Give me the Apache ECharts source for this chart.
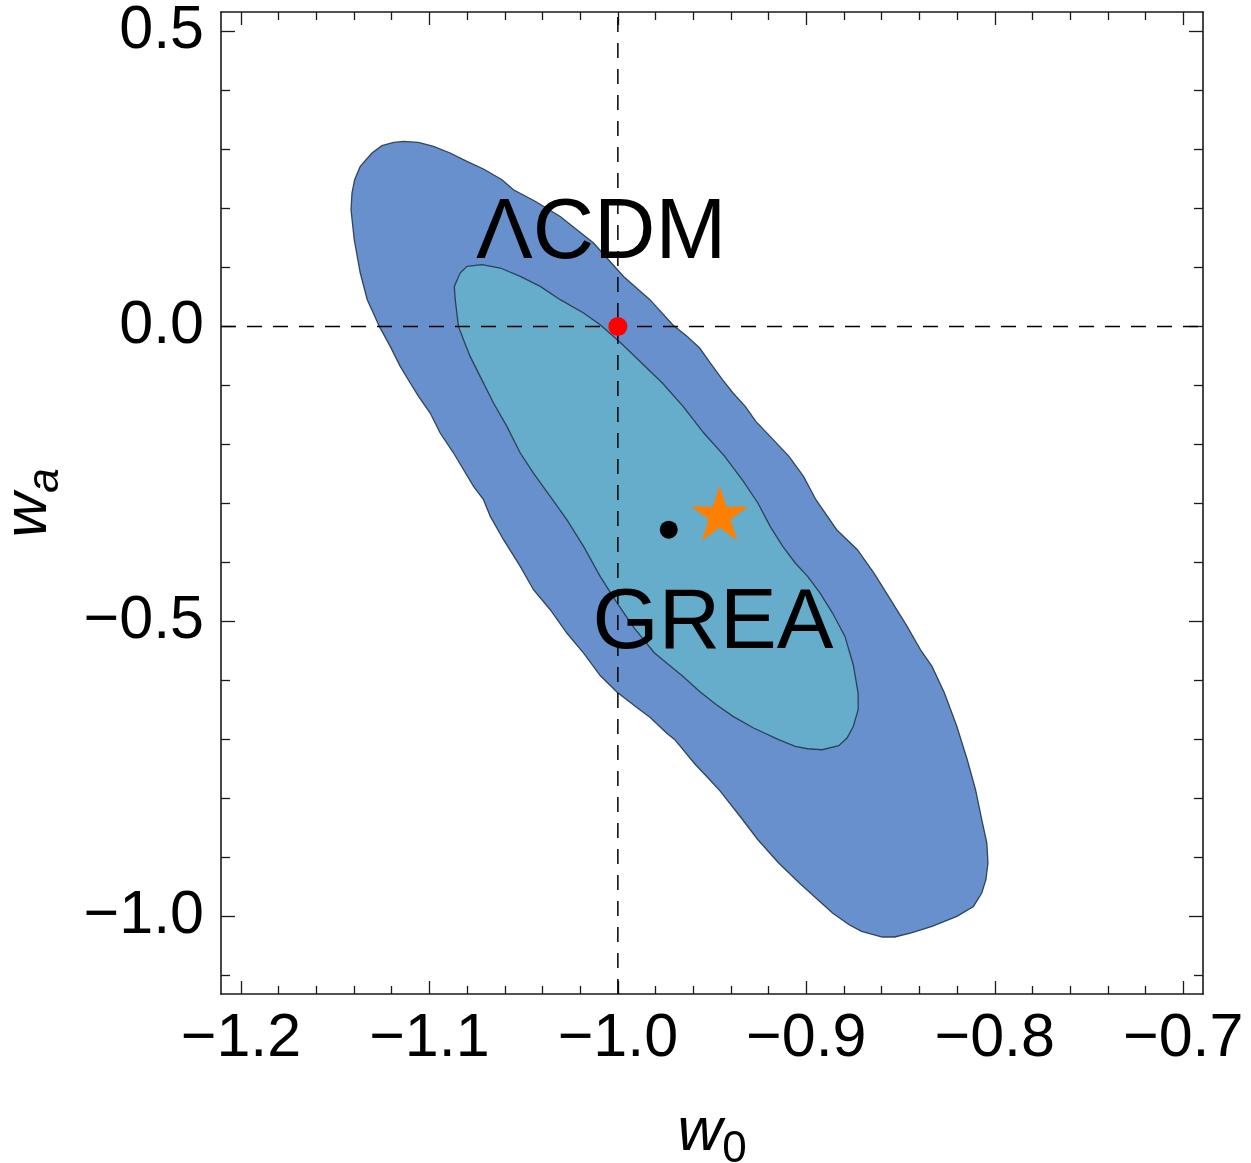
<!DOCTYPE html>
<html><head><meta charset="utf-8">
<script src="https://cdn.jsdelivr.net/npm/echarts@6/dist/echarts.min.js"></script>
<style>html,body{margin:0;padding:0;background:#fff}#c{width:1251px;height:1163px}</style>
</head><body><div id="c"></div>
<script>
// ---- data ----
const outerW0 = [-1.1190,-1.1137,-1.1058,-1.0978,-1.0890,-1.0801,-1.0713,-1.0615,-1.0554,-1.0439,-1.0306,-1.0129,-0.9970,-0.9830,-0.9709,-0.9632,-0.9566,-0.9510,-0.9445,-0.9389,-0.9324,-0.9268,-0.9192,-0.9092,-0.9015,-0.8949,-0.8839,-0.8729,-0.8641,-0.8553,-0.8465,-0.8391,-0.8333,-0.8267,-0.8201,-0.8146,-0.8102,-0.8069,-0.8042,-0.8036,-0.8047,-0.8069,-0.8113,-0.8201,-0.8333,-0.8443,-0.8531,-0.8597,-0.8707,-0.8773,-0.8861,-0.8949,-0.9037,-0.9147,-0.9257,-0.9345,-0.9456,-0.9521,-0.9588,-0.9698,-0.9742,-0.9830,-0.9896,-1.0004,-1.0094,-1.0182,-1.0271,-1.0359,-1.0448,-1.0518,-1.0607,-1.0677,-1.0713,-1.0766,-1.0819,-1.0872,-1.0943,-1.0996,-1.1058,-1.1102,-1.1155,-1.1208,-1.1266,-1.1298,-1.1330,-1.1367,-1.1399,-1.1416,-1.1411,-1.1397,-1.1367,-1.1305,-1.1252];
const outerWa = [0.3119,0.3136,0.3119,0.3051,0.2939,0.2797,0.2668,0.2486,0.2317,0.2122,0.1864,0.1414,0.0847,0.0453,0.0029,-0.0169,-0.0366,-0.0620,-0.0903,-0.1129,-0.1356,-0.1610,-0.1864,-0.2203,-0.2542,-0.2937,-0.3446,-0.3785,-0.4180,-0.4632,-0.5085,-0.5497,-0.5763,-0.6214,-0.6780,-0.7344,-0.7853,-0.8361,-0.8756,-0.9095,-0.9378,-0.9603,-0.9831,-1.0000,-1.0169,-1.0281,-1.0349,-1.0349,-1.0254,-1.0141,-0.9942,-0.9688,-0.9434,-0.9095,-0.8700,-0.8332,-0.7881,-0.7654,-0.7429,-0.7005,-0.6892,-0.6624,-0.6468,-0.6200,-0.5917,-0.5536,-0.5197,-0.4802,-0.4463,-0.4068,-0.3615,-0.3220,-0.2937,-0.2712,-0.2429,-0.2146,-0.1807,-0.1468,-0.1186,-0.0959,-0.0678,-0.0339,0.0000,0.0227,0.0453,0.0905,0.1469,0.1978,0.2261,0.2486,0.2712,0.2939,0.3063];
const innerW0 = [-1.0801,-1.0721,-1.0624,-1.0518,-1.0412,-1.0306,-1.0182,-1.0094,-0.9984,-0.9874,-0.9764,-0.9654,-0.9544,-0.9433,-0.9334,-0.9257,-0.9192,-0.9125,-0.9059,-0.8993,-0.8927,-0.8861,-0.8795,-0.8751,-0.8725,-0.8725,-0.8751,-0.8784,-0.8828,-0.8916,-0.8993,-0.9059,-0.9147,-0.9280,-0.9389,-0.9477,-0.9566,-0.9654,-0.9807,-0.9919,-1.0009,-1.0094,-1.0182,-1.0271,-1.0359,-1.0448,-1.0518,-1.0589,-1.0660,-1.0731,-1.0784,-1.0819,-1.0846,-1.0863,-1.0868,-1.0837];
const innerWa = [0.1017,0.1046,0.0990,0.0847,0.0678,0.0453,0.0227,0.0029,-0.0281,-0.0620,-0.0959,-0.1356,-0.1807,-0.2203,-0.2627,-0.2993,-0.3390,-0.3729,-0.4010,-0.4237,-0.4519,-0.4858,-0.5254,-0.5734,-0.6214,-0.6497,-0.6780,-0.6976,-0.7107,-0.7175,-0.7158,-0.7119,-0.7005,-0.6807,-0.6610,-0.6412,-0.6186,-0.5932,-0.5531,-0.5090,-0.4666,-0.4237,-0.3729,-0.3276,-0.2881,-0.2485,-0.2146,-0.1695,-0.1298,-0.0847,-0.0508,-0.0225,0.0000,0.0453,0.0678,0.0905];

const lcdmPoint = [-1.0, 0.0];
const greaPoint = [-0.973, -0.3446];
const starPoint = [-0.946, -0.321];

const labelNames = ['ΛCDM', 'GREA'];
const labelW0 = [-1.0089, -0.9495];
const labelWa = [0.1560, -0.5055];

const refW0 = -1.0;
const refWa = 0.0;

const xRange = [-1.2106, -0.6895];
const yRange = [-1.1315, 0.5329];
const xMajorTicks = [-1.2, -1.1, -1.0, -0.9, -0.8, -0.7];
const xMinorTicks = [-1.18,-1.16,-1.14,-1.12,-1.08,-1.06,-1.04,-1.02,-0.98,-0.96,-0.94,-0.92,-0.88,-0.86,-0.84,-0.82,-0.78,-0.76,-0.74,-0.72];
const yMajorTicks = [-1.0, -0.5, 0.0, 0.5];
const yMinorTicks = [-1.1,-0.9,-0.8,-0.7,-0.6,-0.4,-0.3,-0.2,-0.1,0.1,0.2,0.3,0.4];

// ---- styling ----
const FONT = '"Liberation Sans", Arial, Helvetica, sans-serif';
const FRAME = '#1a1a1a';
const fmt = v => (v < -1e-9 ? '\u2212' : '') + Math.abs(v).toFixed(1);

function axisBase(range, pos, ticks, len, gridIndex, withLine) {
  return {
    type: 'value', gridIndex, position: pos, min: range[0], max: range[1],
    axisLine: { show: withLine, onZero: false, lineStyle: { color: FRAME, width: 1.6 } },
    axisTick: { show: true, inside: true, length: len, customValues: ticks, lineStyle: { color: FRAME, width: 1.3 } },
    axisLabel: { show: false },
    splitLine: { show: false }
  };
}

const nameRich = (subStyle) => ({
  fontFamily: FONT,
  rich: {
    w: { fontFamily: FONT, fontStyle: 'italic', fontSize: 62, lineHeight: 62, verticalAlign: 'top', color: '#000' },
    s: { fontFamily: FONT, fontStyle: subStyle, fontSize: 44, lineHeight: 70, verticalAlign: 'bottom', color: '#000' }
  }
});

const xBottom = axisBase(xRange, 'bottom', xMajorTicks, 13, 0, true);
xBottom.axisLabel = { show: true, customValues: xMajorTicks, formatter: fmt, fontFamily: FONT, fontSize: 61, color: '#000', margin: 15 };
xBottom.name = '{w|w}{s|0}';
xBottom.nameLocation = 'middle';
xBottom.nameGap = 108;
xBottom.nameMoveOverlap = false;
xBottom.nameTextStyle = nameRich('normal');

const yLeft = axisBase(yRange, 'left', yMajorTicks, 14, 0, true);
yLeft.axisLabel = { show: true, customValues: yMajorTicks, formatter: fmt, fontFamily: FONT, fontSize: 61, color: '#000', margin: 17 };
yLeft.name = '{w|w}{s|a}';
yLeft.nameLocation = 'middle';
yLeft.nameRotate = 90;
yLeft.nameGap = 153;
yLeft.nameMoveOverlap = false;
yLeft.nameTextStyle = nameRich('italic');

const gridRect = () => ({ left: 221, top: 12, width: 982, height: 982, containLabel: false, outerBoundsMode: 'none' });

const polygonSeries = (xs, ys, fill, z) => {
  const pts = xs.map((x, i) => [x, ys[i]]);
  return {
    type: 'custom', xAxisIndex: 0, yAxisIndex: 0, z, silent: true, clip: true,
    data: pts,
    renderItem(params, api) {
      if (params.dataIndex !== 0) return null;
      const coords = pts.map(p => api.coord(p));
      return { type: 'polygon', shape: { points: coords },
        style: { fill, stroke: 'rgba(35,55,75,0.9)', lineWidth: 1.3 } };
    }
  };
};

const dashStyle = { color: '#000', width: 1.5, type: [15, 11] };

const option = {
  animation: false,
  backgroundColor: '#fff',
  grid: [gridRect(), gridRect()],
  xAxis: [
    xBottom,
    axisBase(xRange, 'top', xMajorTicks, 13, 0, true),
    axisBase(xRange, 'bottom', xMinorTicks, 8, 1, false),
    axisBase(xRange, 'top', xMinorTicks, 8, 1, false)
  ],
  yAxis: [
    yLeft,
    axisBase(yRange, 'right', yMajorTicks, 14, 0, true),
    axisBase(yRange, 'left', yMinorTicks, 9, 1, false),
    axisBase(yRange, 'right', yMinorTicks, 9, 1, false)
  ],
  series: [
    polygonSeries(outerW0, outerWa, '#6890cc', 1),
    polygonSeries(innerW0, innerWa, '#65adcb', 2),
    { type: 'line', xAxisIndex: 0, yAxisIndex: 0, z: 3, silent: true, symbol: 'none',
      data: [[refW0, yRange[0]], [refW0, yRange[1]]], lineStyle: dashStyle },
    { type: 'line', xAxisIndex: 0, yAxisIndex: 0, z: 3, silent: true, symbol: 'none',
      data: [[xRange[0], refWa], [xRange[1], refWa]], lineStyle: dashStyle },
    { type: 'scatter', xAxisIndex: 0, yAxisIndex: 0, z: 4, silent: true,
      symbol: 'circle', symbolSize: 19, itemStyle: { color: '#ff0000', opacity: 1 }, data: [lcdmPoint] },
    { type: 'scatter', xAxisIndex: 0, yAxisIndex: 0, z: 4, silent: true,
      symbol: 'circle', symbolSize: 18, itemStyle: { color: '#000000', opacity: 1 }, data: [greaPoint] },
    { type: 'scatter', xAxisIndex: 0, yAxisIndex: 0, z: 4, silent: true,
      symbol: 'path://M0,-100L22.45,-30.9L95.1,-30.9L36.33,11.8L58.78,80.9L0,38.2L-58.78,80.9L-36.33,11.8L-95.1,-30.9L-22.45,-30.9Z',
      symbolSize: [57, 55], symbolOffset: [0, '-5.3%'], itemStyle: { color: '#ff8000', opacity: 1 }, data: [starPoint] },
    { type: 'scatter', xAxisIndex: 0, yAxisIndex: 0, z: 5, silent: true,
      symbol: 'circle', symbolSize: 1, itemStyle: { color: 'rgba(0,0,0,0)', opacity: 1 },
      data: labelNames.map((n, i) => ({ name: n, value: [labelW0[i], labelWa[i]] })),
      label: { show: true, position: 'inside', formatter: '{b}', fontFamily: FONT, fontSize: 85, color: '#000' } }
  ]
};

const chart = echarts.init(document.getElementById('c'), null, { renderer: 'canvas' });
chart.setOption(option);
</script>
</body></html>
